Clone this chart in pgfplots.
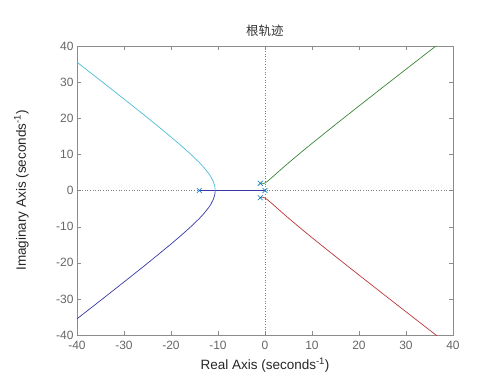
\documentclass[border=0pt]{standalone}
\usepackage{pgfplots}
\pgfplotsset{compat=1.18}
\usepackage{fontspec}
\setmainfont{Liberation Sans}
\newfontfamily\cjk{Noto Sans CJK SC}
\definecolor{lcyan}{rgb}{0.30,0.74,0.84}
\definecolor{lblue}{rgb}{0.22,0.22,0.66}
\definecolor{lgreen}{rgb}{0.22,0.52,0.22}
\definecolor{lred}{rgb}{0.74,0.22,0.22}
\definecolor{mkblue}{rgb}{0.0,0.447,0.741}
\begin{document}
\begin{tikzpicture}[x=1pt,y=1pt]
\path[use as bounding box] (0,0) rectangle (500,375);
\begin{axis}[
  at={(77pt,40pt)}, anchor=south west,
  width=376pt, height=289pt, scale only axis,
  xmin=-40, xmax=40, ymin=-40, ymax=40,
  xtick={-40,-30,...,40}, ytick={-40,-30,...,40},
  axis line style={black!45},
  tick style={black!45},
  major tick length=4pt,
  tick align=inside,
  ticklabel style={font=\fontsize{12}{12}\selectfont, text=black!60},
  xticklabel style={yshift=-3pt},
  /pgf/number format/assume math mode=true,
  xlabel={Real Axis (seconds\textsuperscript{-1})},
  ylabel={Imaginary Axis (seconds\textsuperscript{-1})},
  label style={font=\fontsize{13.5}{13.5}\selectfont, text=black!85},
  xlabel style={yshift=-1pt},
  ylabel style={at={(axis description cs:-0.148,0.5)}, anchor=center, rotate=0},
  title={\cjk 根轨迹},
  title style={font=\fontsize{12.5}{12.5}\selectfont, text=black!80},
  clip=true,
]
% dotted axes lines
\addplot[dotted, black!50, line width=0.6pt] coordinates {(-40,0) (40,0)};
\addplot[dotted, black!50, line width=0.6pt] coordinates {(0,-40) (0,40)};
% real axis segment
\addplot[lblue, line width=0.7pt] coordinates {(-14,0) (-10.6,0) (0,0)};
% upper-left (cyan)
\addplot[lcyan, line width=0.7pt] coordinates {
(-10.6,0) (-10.62,0.561) (-10.7,1.235) (-11,2.478) (-11.5,3.762) (-12,4.750)
(-13,6.377) (-14,7.781) (-16,10.290) (-18,12.602) (-20,14.817) (-23,18.037)
(-26,21.187) (-30,25.327) (-35,30.446) (-40,35.529)};
% lower-left (blue)
\addplot[lblue, line width=0.7pt] coordinates {
(-10.6,0) (-10.62,-0.561) (-10.7,-1.235) (-11,-2.478) (-11.5,-3.762) (-12,-4.750)
(-13,-6.377) (-14,-7.781) (-16,-10.290) (-18,-12.602) (-20,-14.817) (-23,-18.037)
(-26,-21.187) (-30,-25.327) (-35,-30.446) (-40,-35.529)};
% upper-right (green)
\addplot[lgreen, line width=0.7pt] coordinates {
(-1,2) (-0.75,1.877) (-0.5,1.861) (-0.25,1.940) (0,2.092) (0.5,2.533) (1,3.066)
(2,4.213) (3,5.372) (5,7.638) (7.5,10.376) (10,13.045) (15,18.267) (20,23.405)
(25,28.500) (30,33.569) (35,38.620) (37,40.638)};
% lower-right (red)
\addplot[lred, line width=0.7pt] coordinates {
(-1,-2) (-0.75,-1.877) (-0.5,-1.861) (-0.25,-1.940) (0,-2.092) (0.5,-2.533) (1,-3.066)
(2,-4.213) (3,-5.372) (5,-7.638) (7.5,-10.376) (10,-13.045) (15,-18.267) (20,-23.405)
(25,-28.500) (30,-33.569) (35,-38.620) (37,-40.638)};
% poles
\addplot[only marks, mark=x, mark size=3.5pt, mkblue, mark options={line width=0.6pt}]
  coordinates {(-14,0) (0,0) (-1,2) (-1,-2)};
\end{axis}
\end{tikzpicture}
\end{document}
